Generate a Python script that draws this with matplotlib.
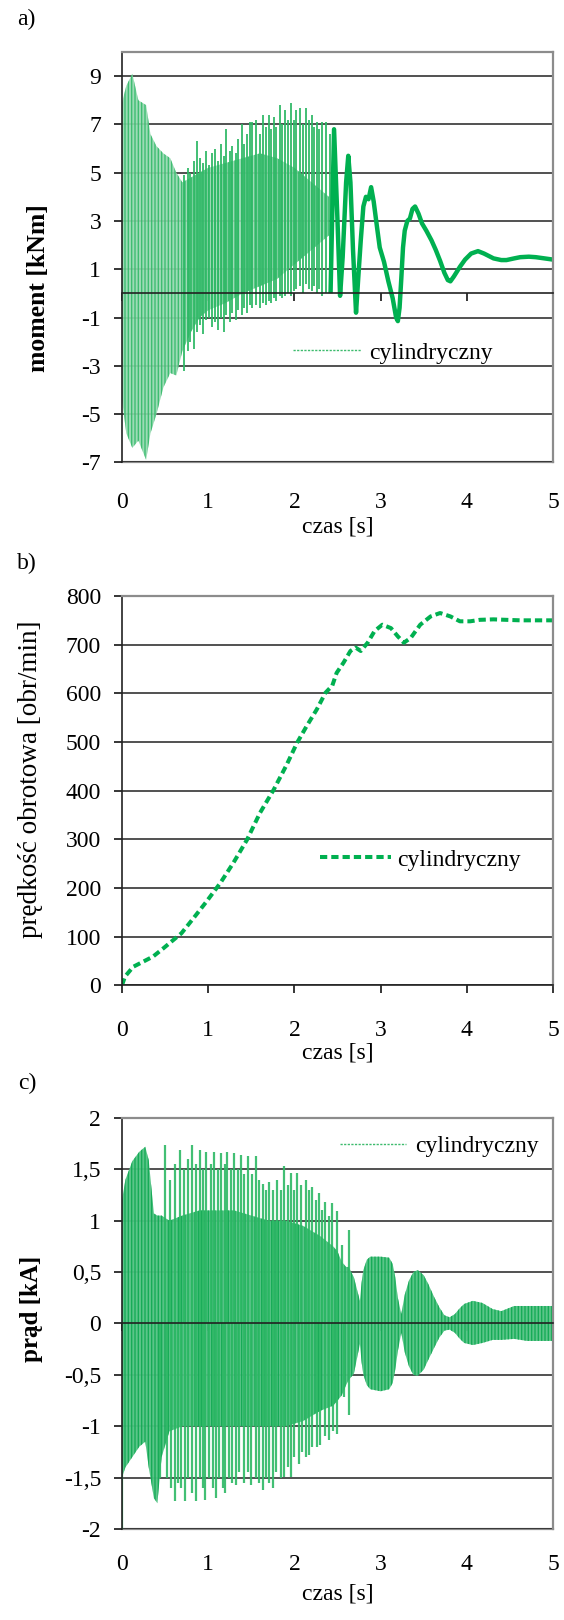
import matplotlib
matplotlib.use('Agg')
import matplotlib.pyplot as plt
from matplotlib.lines import Line2D

plt.rcParams['font.family'] = ['Liberation Serif', 'DejaVu Serif']
plt.rcParams['axes.unicode_minus'] = False
plt.rcParams['hatch.linewidth'] = 1.0

GREEN = '#00b050'
SPIKE = '#2db865'
FS = 17

czas_ticks = [0, 1, 2, 3, 4, 5]

# a) moment - dense band, start-up spikes and the settling tail
m_ticks = [-7, -5, -3, -1, 1, 3, 5, 7, 9]
m_band_t = [0.0, 0.05, 0.12, 0.19, 0.28, 0.33, 0.40, 0.48, 0.56, 0.63, 0.70,
            0.80, 0.90, 1.00, 1.20, 1.40, 1.60, 1.80, 2.00, 2.20, 2.40]
m_band_hi = [7.9, 8.6, 9.1, 8.0, 7.8, 6.6, 6.1, 5.8, 5.6, 5.0, 4.6,
             4.8, 5.0, 5.2, 5.4, 5.6, 5.8, 5.6, 5.2, 4.6, 4.0]
m_band_lo = [-4.4, -5.8, -6.4, -6.1, -6.9, -5.8, -5.0, -3.9, -3.3, -3.4, -2.4,
             -1.6, -1.0, -0.7, -0.4, 0.0, 0.3, 0.6, 1.2, 1.8, 2.4]

m_spike_t = [0.72, 0.76, 0.79, 0.83, 0.87, 0.90, 0.94, 0.97, 1.01, 1.04, 1.08,
             1.11, 1.15, 1.18, 1.21, 1.25, 1.28, 1.32, 1.35, 1.39, 1.42, 1.45,
             1.48, 1.51, 1.56, 1.60, 1.63, 1.67, 1.70, 1.73, 1.76, 1.79, 1.83,
             1.86, 1.89, 1.93, 1.96, 1.99, 2.02, 2.07, 2.10, 2.14, 2.17, 2.20,
             2.23, 2.26, 2.29, 2.32, 2.37, 2.41]
m_spike_hi = [4.9, 5.2, 5.0, 5.5, 6.3, 5.6, 5.4, 5.9, 5.3, 5.8, 6.0,
              5.5, 6.2, 5.7, 6.8, 5.9, 6.1, 5.8, 6.4, 7.0, 6.2, 6.6,
              7.1, 7.1, 7.2, 6.6, 7.4, 6.9, 7.4, 6.8, 7.3, 6.9, 7.8,
              7.0, 7.6, 7.2, 7.9, 7.2, 7.6, 7.7, 7.0, 7.7, 7.2, 7.4,
              6.9, 7.1, 6.8, 7.1, 7.1, 6.6]
m_spike_lo = [-3.2, -2.4, -2.0, -2.3, -1.6, -1.3, -1.7, -1.1, -1.0, -1.4, -1.2,
              -1.5, -1.0, -1.6, -0.9, -1.2, -0.8, -1.1, -0.7, -0.9, -0.6, -0.8,
              -0.5, -0.6, -0.5, -0.6, -0.4, -0.5, -0.3, -0.4, -0.2, -0.3, -0.1,
              -0.2, -0.1, 0.0, -0.1, 0.1, 0.2, 0.3, 0.0, 0.4, 0.2, 0.1,
              0.3, 0.0, 0.2, -0.1, 0.0, 0.0]

m_tail_t = [2.42, 2.46, 2.50, 2.53, 2.56, 2.60, 2.625, 2.65, 2.68, 2.715, 2.74,
            2.77, 2.80, 2.83, 2.86, 2.89, 2.92, 2.96, 2.99, 3.04, 3.09, 3.14,
            3.18, 3.20, 3.22, 3.24, 3.26, 3.28, 3.31, 3.34, 3.37, 3.40, 3.44,
            3.48, 3.53, 3.59, 3.64, 3.69, 3.74, 3.78, 3.81, 3.85, 3.92, 3.98,
            4.05, 4.13, 4.20, 4.31, 4.40, 4.46, 4.55, 4.62, 4.72, 4.80, 4.90, 5.00]
m_tail_v = [0.1, 6.8, 3.0, -0.1, 1.5, 4.6, 5.7, 4.6, 1.8, -0.8, 0.6,
            2.2, 3.6, 4.0, 3.9, 4.4, 3.8, 2.7, 1.9, 1.3, 0.5, -0.2,
            -1.0, -1.15, -0.6, 0.6, 1.9, 2.6, 3.0, 3.1, 3.5, 3.6, 3.3,
            2.9, 2.6, 2.2, 1.8, 1.35, 0.85, 0.55, 0.5, 0.7, 1.1, 1.4,
            1.65, 1.75, 1.65, 1.45, 1.38, 1.38, 1.45, 1.5, 1.52, 1.5, 1.45, 1.4]

# b) rotational speed
v_ticks = [0, 100, 200, 300, 400, 500, 600, 700, 800]
v_t = [0.0, 0.035, 0.13, 0.24, 0.36, 0.48, 0.595, 0.69, 0.83, 0.98, 1.14,
       1.29, 1.45, 1.60, 1.76, 1.91, 2.03, 2.14, 2.26, 2.36, 2.44, 2.49,
       2.57, 2.65, 2.71, 2.77, 2.85, 2.93, 3.02, 3.12, 3.20, 3.27, 3.35,
       3.46, 3.58, 3.69, 3.81, 3.92, 4.04, 4.15, 4.31, 4.46, 4.62, 5.0]
v_rpm = [0, 18, 38, 48, 59, 76, 93, 107, 138, 172, 210,
         251, 299, 354, 402, 453, 498, 532, 567, 601, 616, 642,
         663, 687, 694, 687, 704, 728, 741, 734, 717, 704, 714,
         741, 758, 765, 758, 748, 748, 751, 752, 751, 750, 750]

# c) current - envelope of the 50 Hz band and its peaks
c_ticks = [-2, -1.5, -1, -0.5, 0, 0.5, 1, 1.5, 2]
c_tick_labels = ['-2', '-1,5', '-1', '-0,5', '0', '0,5', '1', '1,5', '2']
c_env_t = [0.0, 0.04, 0.12, 0.20, 0.27, 0.31, 0.37, 0.41, 0.46, 0.55, 0.70,
           0.90, 1.10, 1.30, 1.50, 1.70, 1.90, 2.10, 2.30, 2.45, 2.50, 2.55,
           2.60, 2.63, 2.69, 2.76, 2.78, 2.80, 2.84, 2.88, 3.00, 3.10, 3.14,
           3.17, 3.20, 3.24, 3.28, 3.33, 3.38, 3.43, 3.50, 3.55, 3.62, 3.68,
           3.74, 3.80, 3.86, 3.92, 3.97, 4.07, 4.18, 4.30, 4.40, 4.55, 4.70, 5.00]
c_env_hi = [1.2, 1.4, 1.58, 1.67, 1.72, 1.59, 1.07, 1.05, 1.05, 1.0, 1.05,
            1.1, 1.1, 1.1, 1.05, 1.0, 1.0, 0.95, 0.85, 0.75, 0.7, 0.6,
            0.55, 0.55, 0.45, 0.22, 0.40, 0.52, 0.62, 0.65, 0.65, 0.64, 0.58,
            0.45, 0.25, 0.09, 0.28, 0.42, 0.50, 0.52, 0.47, 0.39, 0.26, 0.16,
            0.08, 0.06, 0.09, 0.15, 0.19, 0.22, 0.20, 0.14, 0.12, 0.17, 0.17, 0.17]
c_env_lo = [-1.5, -1.4, -1.3, -1.2, -1.15, -1.4, -1.7, -1.75, -1.3, -1.05, -1.0,
            -1.0, -1.0, -1.0, -1.0, -1.0, -1.0, -0.95, -0.85, -0.8, -0.75, -0.7,
            -0.6, -0.55, -0.49, -0.2, -0.38, -0.5, -0.6, -0.64, -0.66, -0.64, -0.58,
            -0.45, -0.27, -0.09, -0.28, -0.42, -0.50, -0.51, -0.45, -0.36, -0.24, -0.14,
            -0.07, -0.06, -0.09, -0.15, -0.19, -0.21, -0.19, -0.16, -0.16, -0.15, -0.17, -0.17]

c_top_t = [0.50, 0.56, 0.62, 0.67, 0.72, 0.76, 0.81, 0.86, 0.90, 0.94, 0.98,
           1.03, 1.07, 1.11, 1.15, 1.19, 1.22, 1.26, 1.30, 1.34, 1.38, 1.42,
           1.46, 1.51, 1.55, 1.59, 1.63, 1.67, 1.71, 1.75, 1.80, 1.84, 1.88,
           1.92, 1.96, 2.00, 2.03, 2.08, 2.13, 2.17, 2.21, 2.25, 2.28, 2.32,
           2.36, 2.40, 2.44, 2.49, 2.55, 2.63]
c_top_v = [1.74, 1.4, 1.55, 1.69, 1.5, 1.6, 1.74, 1.55, 1.69, 1.5, 1.67,
           1.55, 1.67, 1.5, 1.66, 1.55, 1.67, 1.5, 1.66, 1.5, 1.64, 1.45,
           1.63, 1.45, 1.63, 1.4, 1.36, 1.3, 1.38, 1.3, 1.4, 1.3, 1.53,
           1.35, 1.46, 1.3, 1.46, 1.35, 1.4, 1.3, 1.33, 1.2, 1.27, 1.1,
           1.18, 1.05, 1.17, 1.09, 0.76, 0.91]
c_bot_t = [0.0, 0.44, 0.52, 0.57, 0.61, 0.65, 0.69, 0.73, 0.77, 0.81, 0.86,
           0.90, 0.94, 0.96, 1.01, 1.05, 1.09, 1.13, 1.17, 1.19, 1.24, 1.28,
           1.32, 1.36, 1.42, 1.46, 1.50, 1.55, 1.59, 1.63, 1.67, 1.71, 1.75,
           1.79, 1.84, 1.88, 1.92, 1.96, 2.00, 2.05, 2.09, 2.13, 2.17, 2.21,
           2.26, 2.30, 2.35, 2.40, 2.45, 2.49, 2.57, 2.63]
c_bot_v = [-2.0, -1.5, -1.5, -1.6, -1.73, -1.55, -1.6, -1.73, -1.5, -1.65, -1.73,
           -1.5, -1.6, -1.72, -1.5, -1.6, -1.7, -1.5, -1.6, -1.65, -1.5, -1.55,
           -1.57, -1.45, -1.55, -1.45, -1.57, -1.5, -1.55, -1.62, -1.5, -1.55, -1.6,
           -1.45, -1.5, -1.49, -1.4, -1.49, -1.3, -1.37, -1.25, -1.3, -1.28, -1.2,
           -1.2, -1.18, -1.1, -1.13, -1.05, -1.08, -0.72, -0.89]


def setup(ax, ticks, labels, ylim, axis_at_zero, pad, labelpad):
    ax.set_xlim(0, 5)
    ax.set_ylim(*ylim)
    ax.set_yticks(ticks)
    ax.set_yticklabels(labels, fontsize=FS)
    ax.yaxis.grid(True, color='#222222', lw=1.1)
    ax.set_axisbelow(True)
    ax.tick_params(axis='y', direction='out', length=6, width=1.1, pad=9)
    for side in ('top', 'right'):
        ax.spines[side].set_color('#8c8c8c')
        ax.spines[side].set_linewidth(1.6)
    ax.spines['left'].set_color('#222222')
    ax.spines['left'].set_linewidth(1.2)
    ax.set_xticks(czas_ticks)
    if axis_at_zero:
        ax.spines['bottom'].set_position(('data', 0))
        ax.spines['bottom'].set_color('#222222')
        ax.spines['bottom'].set_linewidth(1.2)
        ax.tick_params(axis='x', direction='out', length=6, width=1.1, labelbottom=False)
        sec = ax.secondary_xaxis(0)
        sec.set_xticks(czas_ticks)
        sec.tick_params(length=0, pad=pad, labelsize=FS)
        sec.spines['bottom'].set_color('#8c8c8c')
        sec.spines['bottom'].set_linewidth(1.6)
        sec.set_xlabel('czas [s]', fontsize=FS, labelpad=labelpad)
    else:
        ax.spines['bottom'].set_color('#222222')
        ax.spines['bottom'].set_linewidth(1.2)
        ax.tick_params(axis='x', direction='out', length=6, width=1.1, pad=pad, labelsize=FS)
        ax.set_xlabel('czas [s]', fontsize=FS, labelpad=labelpad)


fig = plt.figure(figsize=(5.64, 16.2), dpi=100)
ax_a = fig.add_axes([0.2163, 0.7146, 0.7642, 0.2533])
ax_b = fig.add_axes([0.2163, 0.3918, 0.7642, 0.2403])
ax_c = fig.add_axes([0.2163, 0.0562, 0.7642, 0.2537])

# a) moment
setup(ax_a, m_ticks, [str(v) for v in m_ticks], (-7, 10), True, 21, 3)
ax_a.fill_between(m_band_t, m_band_lo, m_band_hi, facecolor='#93d8ae',
                  edgecolor='#34ba6a', hatch='|||||', lw=0, alpha=0.9)
ax_a.vlines(m_spike_t, m_spike_lo, m_spike_hi, color=SPIKE, lw=1.4, alpha=0.9)
ax_a.plot(m_tail_t, m_tail_v, color=GREEN, lw=3.2, solid_joinstyle='round')
ax_a.set_ylabel('moment [kNm]', fontsize=18.5, fontweight='bold')
ax_a.yaxis.set_label_coords(-0.167, 0.425)
h_a = Line2D([], [], color='#3dbb6d', lw=1.0, dashes=(1.6, 1.0))
ax_a.legend([h_a], ['cylindryczny'], loc='center left', bbox_to_anchor=(0.397, 0.2666),
            frameon=False, fontsize=FS, handlelength=2.87, handletextpad=0.34,
            borderpad=0, borderaxespad=0)

# b) speed
setup(ax_b, v_ticks, [str(v) for v in v_ticks], (0, 800), False, 19, 1)
ax_b.plot(v_t, v_rpm, color=GREEN, lw=2.9, dashes=(1.8, 1.0))
ax_b.set_ylabel('prędkość obrotowa [obr/min]', fontsize=19.5)
ax_b.yaxis.set_label_coords(-0.184, 0.53)
h_b = Line2D([], [], color=GREEN, lw=2.9, dashes=(1.8, 1.0))
ax_b.legend([h_b], ['cylindryczny'], loc='center left', bbox_to_anchor=(0.460, 0.322),
            frameon=False, fontsize=FS, handlelength=3.0, handletextpad=0.26,
            borderpad=0, borderaxespad=0)

# c) current
setup(ax_c, c_ticks, c_tick_labels, (-2, 2), True, 18, 6.5)
ax_c.fill_between(c_env_t, c_env_lo, c_env_hi, facecolor='#52c283',
                  edgecolor='#13aa55', hatch='|||||', lw=0, alpha=0.95)
ax_c.vlines(c_top_t, 0, c_top_v, color=SPIKE, lw=1.6, alpha=0.9)
ax_c.vlines(c_bot_t, c_bot_v, 0, color=SPIKE, lw=1.6, alpha=0.9)
ax_c.set_ylabel('prąd [kA]', fontsize=18, fontweight='bold')
ax_c.yaxis.set_label_coords(-0.184, 0.535)
h_c = Line2D([], [], color='#3dbb6d', lw=1.0, dashes=(1.6, 1.0))
ax_c.legend([h_c], ['cylindryczny'], loc='center left', bbox_to_anchor=(0.505, 0.93),
            frameon=False, fontsize=FS, handlelength=2.8, handletextpad=0.41,
            borderpad=0, borderaxespad=0)

fig.text(26.6 / 564, 1 - 19.3 / 1620, 'a)', fontsize=FS, ha='center', va='center')
fig.text(26.6 / 564, 1 - 563 / 1620, 'b)', fontsize=FS, ha='center', va='center')
fig.text(27 / 564, 1 - 1083 / 1620, 'c)', fontsize=FS, ha='center', va='center')

fig.savefig('out.png', dpi=100)
